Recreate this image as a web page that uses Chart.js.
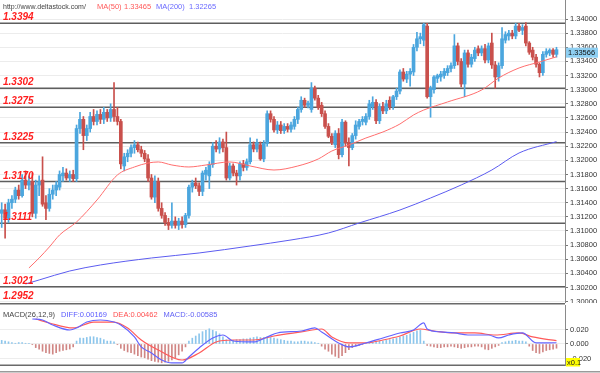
<!DOCTYPE html>
<html><head><meta charset="utf-8">
<script src="https://cdn.jsdelivr.net/npm/chart.js@4.4.1/dist/chart.umd.min.js"></script>
<style>
html,body{margin:0;padding:0;background:#fff;width:600px;height:373px;overflow:hidden}
#c1{position:absolute;left:0;top:0}
#c2{position:absolute;left:0;top:303px;background:#fff}
</style></head><body>
<canvas id="c1" width="600" height="312"></canvas>
<canvas id="c2" width="600" height="70"></canvas>
<script>
// ---------- price data (OHLC per bar) ----------
const opens=[1.3125,1.3130,1.3118,1.3140,1.3145,1.3158,1.3150,1.3172,1.3165,1.3170,
1.3125,1.3165,1.3172,1.3140,1.3132,1.3152,1.3158,1.3162,1.3178,1.3182,
1.3175,1.3180,1.3174,1.3245,1.3258,1.3235,1.3245,1.3262,1.3255,1.3265,
1.3258,1.3268,1.3260,1.3272,1.3262,1.3255,1.3192,1.3205,1.3210,1.3218,
1.3222,1.3215,1.3210,1.3202,1.3175,1.3148,1.3170,1.3132,1.3122,1.3112,
1.3108,1.3114,1.3108,1.3114,1.3109,1.3122,1.3162,1.3168,1.3164,1.3156,
1.3180,1.3178,1.3194,1.3220,1.3216,1.3226,1.3218,1.3175,1.3192,1.3182,
1.3178,1.3195,1.3190,1.3198,1.3222,1.3216,1.3222,1.3202,1.3224,1.3266,
1.3258,1.3243,1.3250,1.3242,1.3248,1.3244,1.3248,1.3258,1.3272,1.3285,
1.3278,1.3272,1.3302,1.3288,1.3278,1.3266,1.3248,1.3234,1.3222,1.3238,
1.3208,1.3254,1.3225,1.3218,1.3235,1.3248,1.3255,1.3254,1.3262,1.3276,
1.3282,1.3256,1.3276,1.3270,1.3285,1.3276,1.3290,1.3298,1.3325,1.3315,
1.3322,1.3325,1.3360,1.3372,1.3370,1.3390,1.3290,1.3300,1.3316,1.3318,
1.3320,1.3324,1.3330,1.3334,1.3362,1.3340,1.3308,1.3352,1.3336,1.3344,
1.3358,1.3352,1.3358,1.3342,1.3366,1.3335,1.3318,1.3334,1.3370,1.3376,
1.3380,1.3376,1.3390,1.3384,1.3390,1.3366,1.3356,1.3346,1.3336,1.3324,
1.3350,1.3352,1.3356,1.3350];
const highs=[1.3140,1.3138,1.3145,1.3150,1.3162,1.3165,1.3180,1.3185,1.3178,1.3182,
1.3172,1.3178,1.3205,1.3150,1.3160,1.3165,1.3170,1.3185,1.3190,1.3188,
1.3185,1.3186,1.3250,1.3268,1.3262,1.3250,1.3268,1.3272,1.3270,1.3272,
1.3275,1.3272,1.3280,1.3310,1.3275,1.3258,1.3210,1.3215,1.3222,1.3228,
1.3226,1.3220,1.3214,1.3208,1.3180,1.3178,1.3175,1.3140,1.3126,1.3118,
1.3140,1.3120,1.3118,1.3120,1.3125,1.3165,1.3172,1.3175,1.3168,1.3185,
1.3190,1.3198,1.3225,1.3228,1.3232,1.3230,1.3240,1.3196,1.3195,1.3186,
1.3198,1.3200,1.3202,1.3232,1.3226,1.3230,1.3226,1.3228,1.3270,1.3270,
1.3262,1.3255,1.3255,1.3252,1.3252,1.3254,1.3262,1.3275,1.3290,1.3288,
1.3284,1.3310,1.3305,1.3292,1.3282,1.3270,1.3252,1.3238,1.3242,1.3245,
1.3258,1.3256,1.3232,1.3238,1.3256,1.3258,1.3262,1.3266,1.3285,1.3290,
1.3286,1.3280,1.3282,1.3285,1.3290,1.3292,1.3302,1.3328,1.3330,1.3326,
1.3330,1.3364,1.3381,1.3380,1.3394,1.3394,1.3305,1.3320,1.3322,1.3326,
1.3330,1.3334,1.3338,1.3378,1.3366,1.3344,1.3356,1.3356,1.3350,1.3360,
1.3362,1.3362,1.3364,1.3366,1.3380,1.3340,1.3338,1.3388,1.3382,1.3384,
1.3384,1.3394,1.3394,1.3392,1.3395,1.3368,1.3360,1.3350,1.3338,1.3354,
1.3358,1.3358,1.3358,1.3360];
const lows=[1.3105,1.3090,1.3112,1.3132,1.3140,1.3145,1.3148,1.3160,1.3158,1.3120,
1.3118,1.3150,1.3135,1.3116,1.3128,1.3145,1.3150,1.3158,1.3170,1.3172,
1.3170,1.3170,1.3170,1.3238,1.3215,1.3228,1.3240,1.3250,1.3250,1.3252,
1.3252,1.3255,1.3255,1.3255,1.3250,1.3188,1.3185,1.3198,1.3205,1.3210,
1.3212,1.3205,1.3198,1.3170,1.3145,1.3140,1.3128,1.3118,1.3108,1.3102,
1.3104,1.3104,1.3102,1.3104,1.3105,1.3118,1.3155,1.3160,1.3150,1.3150,
1.3172,1.3160,1.3190,1.3212,1.3210,1.3212,1.3172,1.3172,1.3178,1.3165,
1.3172,1.3185,1.3186,1.3195,1.3212,1.3212,1.3200,1.3198,1.3220,1.3254,
1.3240,1.3238,1.3238,1.3238,1.3240,1.3240,1.3244,1.3252,1.3268,1.3275,
1.3274,1.3268,1.3285,1.3272,1.3262,1.3245,1.3232,1.3222,1.3218,1.3202,
1.3205,1.3220,1.3192,1.3215,1.3230,1.3244,1.3250,1.3250,1.3258,1.3272,
1.3252,1.3252,1.3266,1.3266,1.3272,1.3272,1.3286,1.3294,1.3312,1.3310,
1.3305,1.3320,1.3355,1.3365,1.3362,1.3288,1.3261,1.3295,1.3310,1.3312,
1.3316,1.3320,1.3325,1.3330,1.3335,1.3304,1.3290,1.3332,1.3332,1.3340,
1.3348,1.3348,1.3338,1.3338,1.3330,1.3302,1.3312,1.3330,1.3366,1.3370,
1.3372,1.3372,1.3382,1.3378,1.3362,1.3350,1.3342,1.3332,1.3318,1.3320,
1.3346,1.3348,1.3346,1.3346];
const closes=[1.3130,1.3118,1.3140,1.3145,1.3158,1.3150,1.3172,1.3165,1.3170,1.3125,
1.3165,1.3170,1.3138,1.3132,1.3152,1.3158,1.3165,1.3180,1.3182,1.3175,
1.3180,1.3174,1.3245,1.3258,1.3235,1.3245,1.3262,1.3255,1.3265,1.3258,
1.3268,1.3260,1.3272,1.3262,1.3255,1.3195,1.3205,1.3210,1.3218,1.3222,
1.3215,1.3210,1.3202,1.3175,1.3148,1.3170,1.3132,1.3122,1.3112,1.3108,
1.3114,1.3108,1.3114,1.3109,1.3122,1.3162,1.3168,1.3164,1.3156,1.3182,
1.3186,1.3194,1.3220,1.3216,1.3226,1.3218,1.3175,1.3192,1.3182,1.3178,
1.3195,1.3190,1.3198,1.3222,1.3216,1.3225,1.3202,1.3224,1.3266,1.3258,
1.3243,1.3250,1.3242,1.3248,1.3244,1.3250,1.3258,1.3272,1.3285,1.3278,
1.3281,1.3302,1.3288,1.3275,1.3266,1.3248,1.3234,1.3225,1.3238,1.3208,
1.3254,1.3225,1.3218,1.3235,1.3250,1.3255,1.3258,1.3262,1.3280,1.3282,
1.3256,1.3276,1.3270,1.3280,1.3276,1.3290,1.3298,1.3325,1.3315,1.3322,
1.3326,1.3360,1.3372,1.3375,1.3392,1.3290,1.3302,1.3318,1.3320,1.3322,
1.3326,1.3330,1.3334,1.3362,1.3340,1.3308,1.3352,1.3336,1.3346,1.3356,
1.3352,1.3358,1.3342,1.3362,1.3335,1.3318,1.3334,1.3372,1.3378,1.3380,
1.3376,1.3390,1.3384,1.3388,1.3366,1.3353,1.3346,1.3336,1.3324,1.3350,
1.3354,1.3356,1.3350,1.33566];

// ---------- moving averages (read at sample bars) ----------
const ma50Bars=[8,11,14,17,22,28,34,39,43,46,50,55,60,67,73,80,87,93,97,102,107,112,117,121,124,131,141,146,152,158,163];
const ma50Vals=[1.30477,1.30618,1.30774,1.30944,1.31128,1.31439,1.31793,1.31906,1.31962,1.31977,1.31934,1.31906,1.31934,1.31977,1.3192,1.31863,1.3192,1.32019,1.32132,1.32217,1.32316,1.32401,1.32514,1.32642,1.32712,1.32826,1.32995,1.33165,1.33307,1.33392,1.33465];
const ma200Bars=[7,11,20,29,44,58,73,85,96,105,117,126,135,144,152,163];
const ma200Vals=[1.3025,1.30307,1.30434,1.30519,1.30618,1.30689,1.30788,1.30873,1.30972,1.31113,1.31297,1.31467,1.31651,1.31863,1.32104,1.32265];

// ---------- horizontal levels ----------
const levels=[1.3394,1.3302,1.3275,1.3225,1.3170,1.3111,1.3021,1.2952];
const levelLabels=['1.3394','1.3302','1.3275','1.3225','1.3170','1.3111','1.3021','1.2952'];

// ---------- MACD ----------
const macdHist=[0.005,0.004,0.003,0.002,0.001,0.002,0.002,0.001,0.001,-0.001,
-0.005,-0.007,-0.010,-0.012,-0.013,-0.014,-0.012,-0.010,-0.009,-0.008,
-0.007,-0.004,0.004,0.008,0.008,0.009,0.010,0.010,0.009,0.008,
0.006,0.004,0.004,0.003,-0.001,-0.006,-0.009,-0.011,-0.012,-0.014,
-0.016,-0.018,-0.019,-0.021,-0.023,-0.024,-0.025,-0.026,-0.025,-0.024,
-0.022,-0.019,-0.015,-0.010,-0.004,0.004,0.008,0.011,0.014,0.017,
0.019,0.021,0.019,0.017,0.014,0.010,0.006,0.005,0.005,0.006,
0.006,0.007,0.007,0.008,0.009,0.010,0.009,0.009,0.010,0.009,
0.008,0.007,0.006,0.005,0.004,0.004,0.003,0.003,0.004,0.004,
0.003,0.003,0.002,0.001,-0.003,-0.007,-0.010,-0.014,-0.017,-0.019,
-0.016,-0.012,-0.008,-0.005,-0.003,-0.002,-0.001,0.001,0.002,0.003,
0.003,0.004,0.004,0.005,0.006,0.007,0.008,0.010,0.011,0.012,
0.014,0.016,0.018,0.019,0.004,-0.002,-0.003,-0.004,-0.005,-0.005,
-0.004,-0.004,-0.003,-0.004,-0.005,-0.006,-0.005,-0.004,-0.004,-0.003,
-0.003,-0.004,-0.007,-0.008,-0.006,-0.004,-0.002,0.002,0.003,0.004,
0.004,0.005,0.004,0.004,0.003,-0.003,-0.009,-0.012,-0.013,-0.011,
-0.009,-0.008,-0.007,-0.00585];
const diffBars=[9,12,15,20,22,25,29,33,35,39,41,44,47,50,53,55,58,62,65,68,74,78,81,88,92,94,99,102,107,112,117,121,124,125,129,133,137,143,146,149,153,157,163];
const diffVals=[0.0345,0.0331,0.0262,0.0193,0.0221,0.0303,0.0331,0.0303,0.0262,0.0097,-0.0041,-0.0124,-0.0221,-0.0262,-0.0262,-0.0179,-0.0055,0.0083,0.0124,0.0041,0.0028,0.0097,0.0152,0.0179,0.0221,0.0166,0.0014,-0.0041,0.0014,0.0083,0.0152,0.0193,0.029,0.0207,0.0166,0.0152,0.0124,0.0124,0.0083,0.0124,0.0152,0.0014,0.00169];
const deaBars=[10,14,21,27,33,37,41,46,53,58,63,68,74,80,88,94,97,102,107,112,117,123,127,133,139,145,152,156,163];
const deaVals=[0.0345,0.029,0.0221,0.0303,0.0303,0.0221,0.0055,-0.0083,-0.0221,-0.0124,0.0028,0.0055,0.0055,0.011,0.0166,0.0207,0.0097,0.0014,0.0014,0.0055,0.011,0.0207,0.0179,0.0152,0.0152,0.0124,0.0152,0.0097,0.00462];

const priceTicks={min:1.30,max:1.34,step:0.002};
const macdTicks=[-0.02,0,0.02];

// ---------- chart setup ----------
Chart.defaults.font.family='"Liberation Sans", Arial, sans-serif';
Chart.defaults.animation=false;
Chart.defaults.plugins.legend.display=false;
Chart.defaults.plugins.tooltip.enabled=false;

const BLUE='#4ba6de', RED='#c9504c';
const bars=opens.map((_,i)=>i);
const candleCol=bars.map(i=>closes[i]>=opens[i]?BLUE:RED);
const xAxis={type:'linear',min:-0.5,max:165.5,display:false,offset:false};
const FONT_SMALL={size:7.5,family:'"Liberation Sans", Arial, sans-serif'};

const mainPlugin={
  id:'mainDeco',
  afterDatasetsDraw(chart){
    const {ctx,chartArea:a,scales:{y}}=chart;
    ctx.save();
    ctx.font='italic bold 10px "Liberation Sans", Arial, sans-serif';
    ctx.fillStyle='#ff1f1f';
    ctx.textBaseline='alphabetic';
    levels.forEach((v,k)=>{
      const py=Math.min(y.getPixelForValue(v),a.bottom-1);
      ctx.fillText(levelLabels[k],3,py-3);
    });
    // header
    ctx.font='7px "Liberation Sans", Arial, sans-serif';
    ctx.fillStyle='#444';
    ctx.fillText('http://www.deltastock.com/',3,8.5);
    ctx.font='7.5px "Liberation Sans", Arial, sans-serif';
    ctx.fillStyle='#ff5a5a';
    ctx.fillText('MA(50)',97,8.5);
    ctx.fillText(ma50Vals[ma50Vals.length-1].toFixed(5),124,8.5);
    ctx.fillStyle='#6a6aff';
    ctx.fillText('MA(200)',156,8.5);
    ctx.fillText(ma200Vals[ma200Vals.length-1].toFixed(5),189,8.5);
    ctx.restore();
  },
  afterDraw(chart){
    const {ctx,scales:{y}}=chart;
    const last=closes[closes.length-1];
    const py=y.getPixelForValue(last)+3;
    ctx.save();
    ctx.fillStyle='#8ecff2';
    ctx.fillRect(566,py-5,32,10);
    ctx.fillStyle='#111';
    ctx.font='7.5px "Liberation Sans", Arial, sans-serif';
    ctx.textBaseline='middle';
    ctx.fillText(last.toFixed(5),568,py+0.5);
    ctx.restore();
  }
};

new Chart(document.getElementById('c1'),{
  type:'bar',
  data:{datasets:[
    {type:'line',label:'MA50',data:ma50Bars.map((b,k)=>({x:b,y:ma50Vals[k]})),borderColor:'#ff6e6e',borderWidth:1,pointRadius:0,tension:0.4,cubicInterpolationMode:'monotone',order:0},
    {type:'line',label:'MA200',data:ma200Bars.map((b,k)=>({x:b,y:ma200Vals[k]})),borderColor:'#5c5cf0',borderWidth:1,pointRadius:0,tension:0.4,cubicInterpolationMode:'monotone',order:0},
    {label:'body',data:bars.map(i=>({x:i,y:[opens[i],closes[i]]})),backgroundColor:candleCol,barThickness:3,minBarLength:1,grouped:false,order:1},
    {label:'wick',data:bars.map(i=>({x:i,y:[lows[i],highs[i]]})),backgroundColor:candleCol,barThickness:1,grouped:false,order:2},
    ...levels.map(v=>({type:'line',data:[{x:-0.5,y:v},{x:165.5,y:v}],borderColor:'#5e5e5e',borderWidth:1.5,pointRadius:0,order:10}))
  ]},
  options:{
    responsive:false,
    layout:{padding:{left:0,right:0,top:0,bottom:9}},
    scales:{
      x:xAxis,
      y:{position:'right',min:1.29981,max:1.34269,
        afterFit(s){s.width=35;s.paddingTop=0;s.paddingBottom=0;},
        afterBuildTicks(s){s.ticks=s.ticks.filter(t=>t.value>priceTicks.min-1e-6&&t.value<priceTicks.max+1e-6);},
        ticks:{stepSize:priceTicks.step,includeBounds:false,autoSkip:false,callback:v=>v.toFixed(5),font:FONT_SMALL,color:'#333',padding:2},
        grid:{color:'#ececec',tickLength:3,tickColor:'#777'},
        border:{display:true,color:'#8a8a8a'}
      }
    }
  },
  plugins:[mainPlugin]
});

const macdPlugin={
  id:'macdDeco',
  afterDraw(chart){
    const {ctx}=chart;
    ctx.save();
    ctx.font='7.5px "Liberation Sans", Arial, sans-serif';
    ctx.textBaseline='alphabetic';
    let x=3;const by=14;
    const parts=[['MACD(26,12,9)','#444'],['DIFF:'+diffVals[diffVals.length-1].toFixed(5),'#5a5aff'],['DEA:'+deaVals[deaVals.length-1].toFixed(5),'#ff4f4f'],['MACD:'+macdHist[macdHist.length-1].toFixed(5),'#6262f5']];
    parts.forEach(([t,c])=>{ctx.fillStyle=c;ctx.fillText(t,x,by);x+=ctx.measureText(t).width+6;});
    // panel borders
    ctx.fillStyle='#6a6a6a';
    ctx.fillRect(0,0,565,1.5);
    ctx.fillRect(0,61.5,565,1.5);
    ctx.fillStyle='#9a9a9a';
    ctx.fillRect(0,68,600,1.5);
    // x0.1 tag
    ctx.fillStyle='#ffff00';
    ctx.fillRect(566,55,14,8.5);
    ctx.fillStyle='#222';
    ctx.fillText('x0.1',567,62);
    ctx.restore();
  }
};

new Chart(document.getElementById('c2'),{
  type:'bar',
  data:{datasets:[
    {type:'line',data:diffBars.map((b,k)=>({x:b,y:diffVals[k]})),borderColor:'#6464ff',borderWidth:1.2,pointRadius:0,tension:0.4,cubicInterpolationMode:'monotone',order:0},
    {type:'line',data:deaBars.map((b,k)=>({x:b,y:deaVals[k]})),borderColor:'#ff5a5a',borderWidth:1.2,pointRadius:0,tension:0.4,cubicInterpolationMode:'monotone',order:0},
    {data:bars.map(i=>({x:i,y:macdHist[i]})),backgroundColor:macdHist.map(v=>v>=0?'#8cc6ec':'#d08684'),barThickness:1,grouped:false,order:1}
  ]},
  options:{
    responsive:false,
    layout:{padding:{left:0,right:0,top:2,bottom:8}},
    scales:{
      x:xAxis,
      y:{position:'right',min:-0.029,max:0.0538,
        afterFit(s){s.width=35;s.paddingTop=0;s.paddingBottom=0;},
        afterBuildTicks(s){s.ticks=macdTicks.map(v=>({value:v}));},
        ticks:{autoSkip:false,callback:v=>Math.abs(v)<1e-9?'0.000':v.toFixed(3),font:FONT_SMALL,color:'#333',padding:2},
        grid:{color:'#ededed',tickLength:3,tickColor:'#777'},
        border:{display:true,color:'#8a8a8a'}
      }
    }
  },
  plugins:[macdPlugin]
});
</script>
</body></html>
